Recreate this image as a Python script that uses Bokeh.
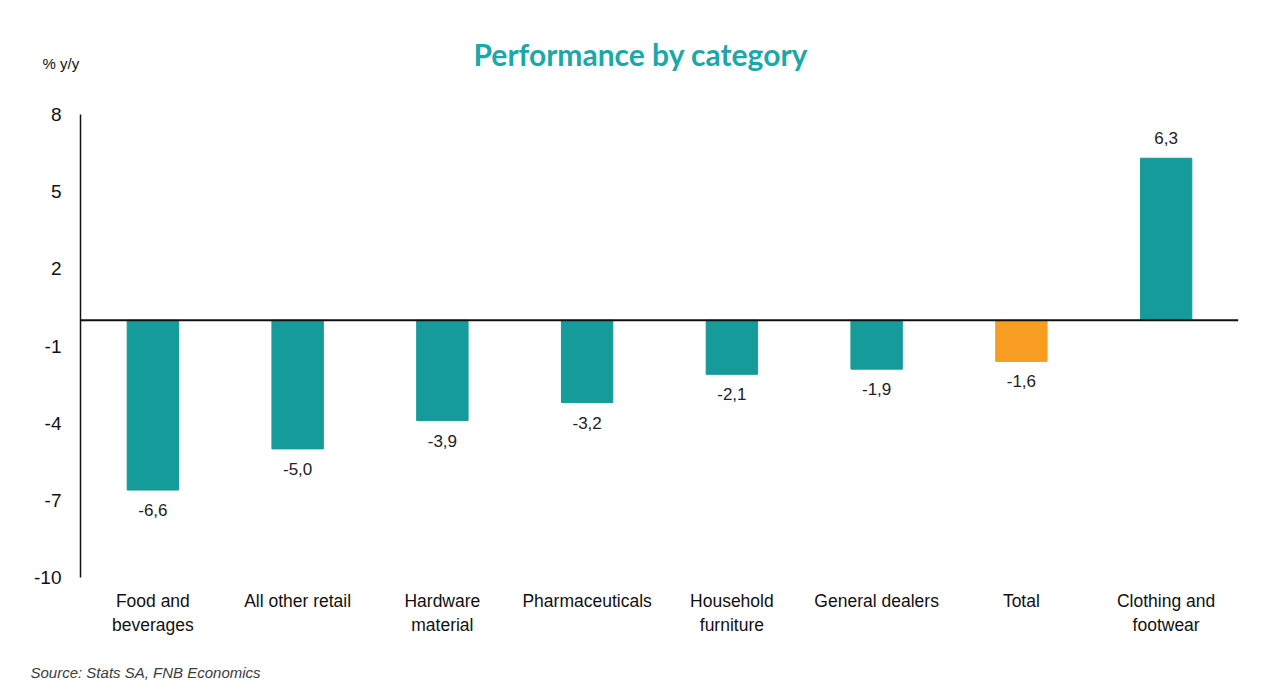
from bokeh.plotting import figure
from bokeh.models import ColumnDataSource, Range1d, FixedTicker, Span, Title
from bokeh.embed import file_html
from bokeh.resources import INLINE
from bokeh.core.properties import value

categories = ["Food and\nbeverages", "All other retail", "Hardware\nmaterial", "Pharmaceuticals",
              "Household\nfurniture", "General dealers", "Total", "Clothing and\nfootwear"]
values = [-6.6, -5.0, -3.9, -3.2, -2.1, -1.9, -1.6, 6.3]
y_ticks = [-10, -7, -4, -1, 2, 5, 8]

TEAL = "#159b99"
ORANGE = "#f79e22"
colors = [ORANGE if c == "Total" else TEAL for c in categories]
labels = [f"{v:.1f}".replace(".", ",") for v in values]
offsets = [20 if v < 0 else -20 for v in values]

src = ColumnDataSource(dict(cat=categories, val=values, color=colors, label=labels, off=offsets))

W, H = 1270, 690
p = figure(x_range=categories, y_range=Range1d(-10, 8), width=W, height=H,
           output_backend="svg", toolbar_location=None,
           min_border_left=80, min_border_right=32, min_border_top=114, min_border_bottom=113)
p.outline_line_color = None
p.grid.grid_line_color = None
p.background_fill_color = "white"

p.vbar(x="cat", top="val", bottom=0, width=0.355, color="color", source=src)
p.add_layout(Span(location=0, dimension="width", line_color="#111111", line_width=2))

p.text(x="cat", y="val", text="label", y_offset="off", source=src,
       text_align="center", text_baseline="middle", text_font=value("Liberation Sans"),
       text_font_size="17px", text_color="#222222")

ya = p.yaxis[0]
ya.ticker = FixedTicker(ticks=y_ticks)
ya.major_label_overrides = {t: str(t) for t in y_ticks}
ya.major_tick_line_color = None
ya.minor_tick_line_color = None
ya.axis_line_color = "#111111"
ya.axis_line_width = 1.5
ya.major_label_text_font = "Liberation Sans"
ya.major_label_text_font_size = "19px"
ya.major_label_text_color = "#111111"
ya.major_label_standoff = 13

xa = p.xaxis[0]
xa.axis_line_color = None
xa.major_tick_line_color = None
xa.minor_tick_line_color = None
xa.major_label_text_font = "Liberation Sans"
xa.major_label_text_font_size = "17.5px"
xa.major_label_text_color = "#111111"
xa.major_label_standoff = 7

p.add_layout(Title(text="% y/y", align="left", offset=-38, standoff=86,
                   text_font="Liberation Sans", text_font_style="normal", text_font_size="15px",
                   text_color="#111111"), "above")
p.add_layout(Title(text="Performance by category", align="left", offset=393, standoff=-125,
                   text_font="Lato", text_font_style="bold", text_font_size="30px",
                   text_color="#1ba8a8"), "above")
p.add_layout(Title(text="\nSource: Stats SA, FNB Economics", align="left", offset=-50, standoff=14,
                   text_font="Liberation Sans", text_font_style="italic", text_font_size="15px",
                   text_color="#3c3c3c"), "below")

open("out.html", "w").write(file_html(p, INLINE))
